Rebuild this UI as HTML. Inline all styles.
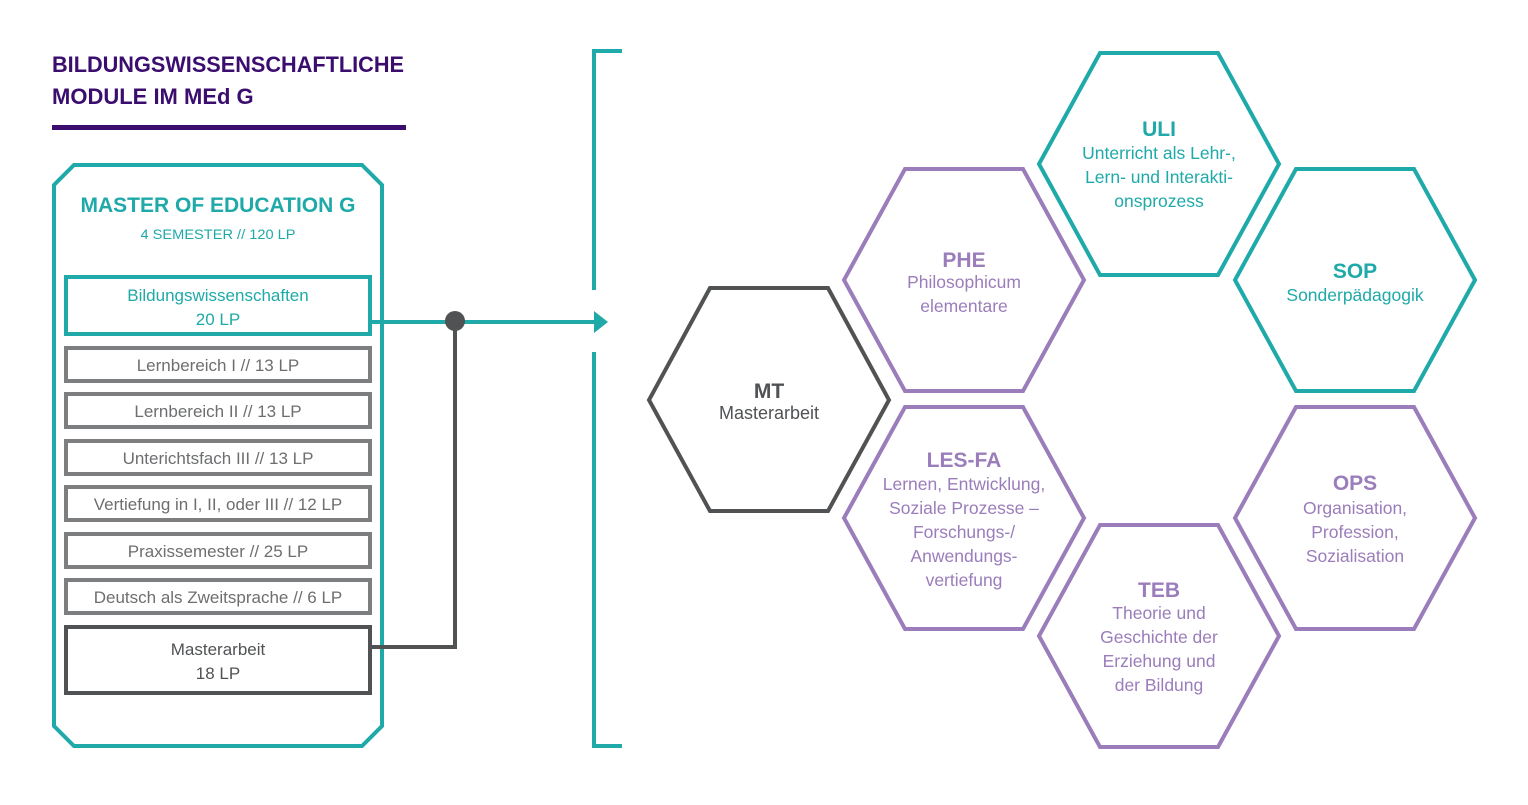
<!DOCTYPE html>
<html><head><meta charset="utf-8"><style>
body{margin:0;background:#fff;}
svg text{font-family:"Liberation Sans",sans-serif;text-anchor:middle;}
</style></head><body>
<svg width="1528" height="800" viewBox="0 0 1528 800" xmlns="http://www.w3.org/2000/svg">
<text x="52" y="72" style="text-anchor:start" font-size="22" font-weight="bold" fill="#3a0d6e" textLength="352" lengthAdjust="spacingAndGlyphs">BILDUNGSWISSENSCHAFTLICHE</text>
<text x="52" y="104" style="text-anchor:start" font-size="22" font-weight="bold" fill="#3a0d6e">MODULE IM MEd G</text>
<rect x="52" y="125" width="354" height="5" fill="#3a0d6e"/>
<polygon points="74,165 362,165 382,185 382,726 362,746 74,746 54,726 54,185" fill="none" stroke="#1fa9a9" stroke-width="4"/>
<text x="218" y="212" font-size="21" font-weight="bold" fill="#1fa9a9">MASTER OF EDUCATION G</text>
<text x="218" y="239" font-size="14" fill="#1fa9a9" textLength="155" lengthAdjust="spacingAndGlyphs">4 SEMESTER // 120 LP</text>
<rect x="66" y="277" width="304" height="57" fill="#fff" stroke="#1fa9a9" stroke-width="4"/>
<text x="218" y="301" font-size="17" fill="#1fa9a9">Bildungswissenschaften</text>
<text x="218" y="325" font-size="17" fill="#1fa9a9">20 LP</text>
<g fill="#fff" stroke="#7d7e80" stroke-width="4">
<rect x="66" y="348" width="304" height="33"/>
<rect x="66" y="394" width="304" height="33"/>
<rect x="66" y="441" width="304" height="33"/>
<rect x="66" y="487" width="304" height="33"/>
<rect x="66" y="534" width="304" height="33"/>
<rect x="66" y="580" width="304" height="33"/>
</g>
<g font-size="17" fill="#6d6e70">
<text x="218" y="371">Lernbereich I // 13 LP</text>
<text x="218" y="417">Lernbereich II // 13 LP</text>
<text x="218" y="464">Unterichtsfach III // 13 LP</text>
<text x="218" y="510">Vertiefung in I, II, oder III // 12 LP</text>
<text x="218" y="557">Praxissemester // 25 LP</text>
<text x="218" y="603">Deutsch als Zweitsprache // 6 LP</text>
</g>
<rect x="66" y="627" width="304" height="66" fill="#fff" stroke="#505254" stroke-width="4"/>
<text x="218" y="655" font-size="17" fill="#505254">Masterarbeit</text>
<text x="218" y="679" font-size="17" fill="#505254">18 LP</text>
<polyline points="372,647 455,647 455,322" fill="none" stroke="#505254" stroke-width="4"/>
<line x1="372" y1="322" x2="596" y2="322" stroke="#1fa9a9" stroke-width="4"/>
<polygon points="594,311 608,322 594,333" fill="#1fa9a9"/>
<circle cx="455" cy="321" r="10" fill="#505254"/>
<polyline points="622,51 594,51 594,290" fill="none" stroke="#1fa9a9" stroke-width="4"/>
<polyline points="594,352 594,746 622,746" fill="none" stroke="#1fa9a9" stroke-width="4"/>
<g fill="none" stroke-width="4">
<polygon points="710,288 828,288 889,400 828,511 710,511 649,400" stroke="#505254"/>
<polygon points="905,169 1023,169 1084,280 1023,391 905,391 844,280" stroke="#9a7dba"/>
<polygon points="1100,53 1218,53 1279,164 1218,275 1100,275 1039,164" stroke="#1fa9a9"/>
<polygon points="1296,169 1414,169 1475,280 1414,391 1296,391 1235,280" stroke="#1fa9a9"/>
<polygon points="905,407 1023,407 1084,518 1023,629 905,629 844,518" stroke="#9a7dba"/>
<polygon points="1296,407 1414,407 1475,518 1414,629 1296,629 1235,518" stroke="#9a7dba"/>
<polygon points="1100,525 1218,525 1279,636 1218,747 1100,747 1039,636" stroke="#9a7dba"/>
</g>
<g font-size="17.5">
<text x="769" y="398" font-size="21" font-weight="bold" fill="#505254">MT</text>
<text x="769" y="419" font-size="18" fill="#505254">Masterarbeit</text>
<g fill="#9a7dba">
<text x="964" y="267" font-size="21" font-weight="bold">PHE</text>
<text x="964" y="288">Philosophicum</text>
<text x="964" y="312">elementare</text>
<text x="964" y="467" font-size="21" font-weight="bold">LES-FA</text>
<text x="964" y="490">Lernen, Entwicklung,</text>
<text x="964" y="514">Soziale Prozesse –</text>
<text x="964" y="538">Forschungs-/</text>
<text x="964" y="562">Anwendungs-</text>
<text x="964" y="586">vertiefung</text>
<text x="1355" y="490" font-size="21" font-weight="bold">OPS</text>
<text x="1355" y="514">Organisation,</text>
<text x="1355" y="538">Profession,</text>
<text x="1355" y="562">Sozialisation</text>
<text x="1159" y="597" font-size="21" font-weight="bold">TEB</text>
<text x="1159" y="619">Theorie und</text>
<text x="1159" y="643">Geschichte der</text>
<text x="1159" y="667">Erziehung und</text>
<text x="1159" y="691">der Bildung</text>
</g>
<g fill="#1fa9a9">
<text x="1159" y="136" font-size="21" font-weight="bold">ULI</text>
<text x="1159" y="159">Unterricht als Lehr-,</text>
<text x="1159" y="183">Lern- und Interakti-</text>
<text x="1159" y="207">onsprozess</text>
<text x="1355" y="278" font-size="21" font-weight="bold">SOP</text>
<text x="1355" y="301">Sonderpädagogik</text>
</g>
</g>
</svg>
</body></html>
